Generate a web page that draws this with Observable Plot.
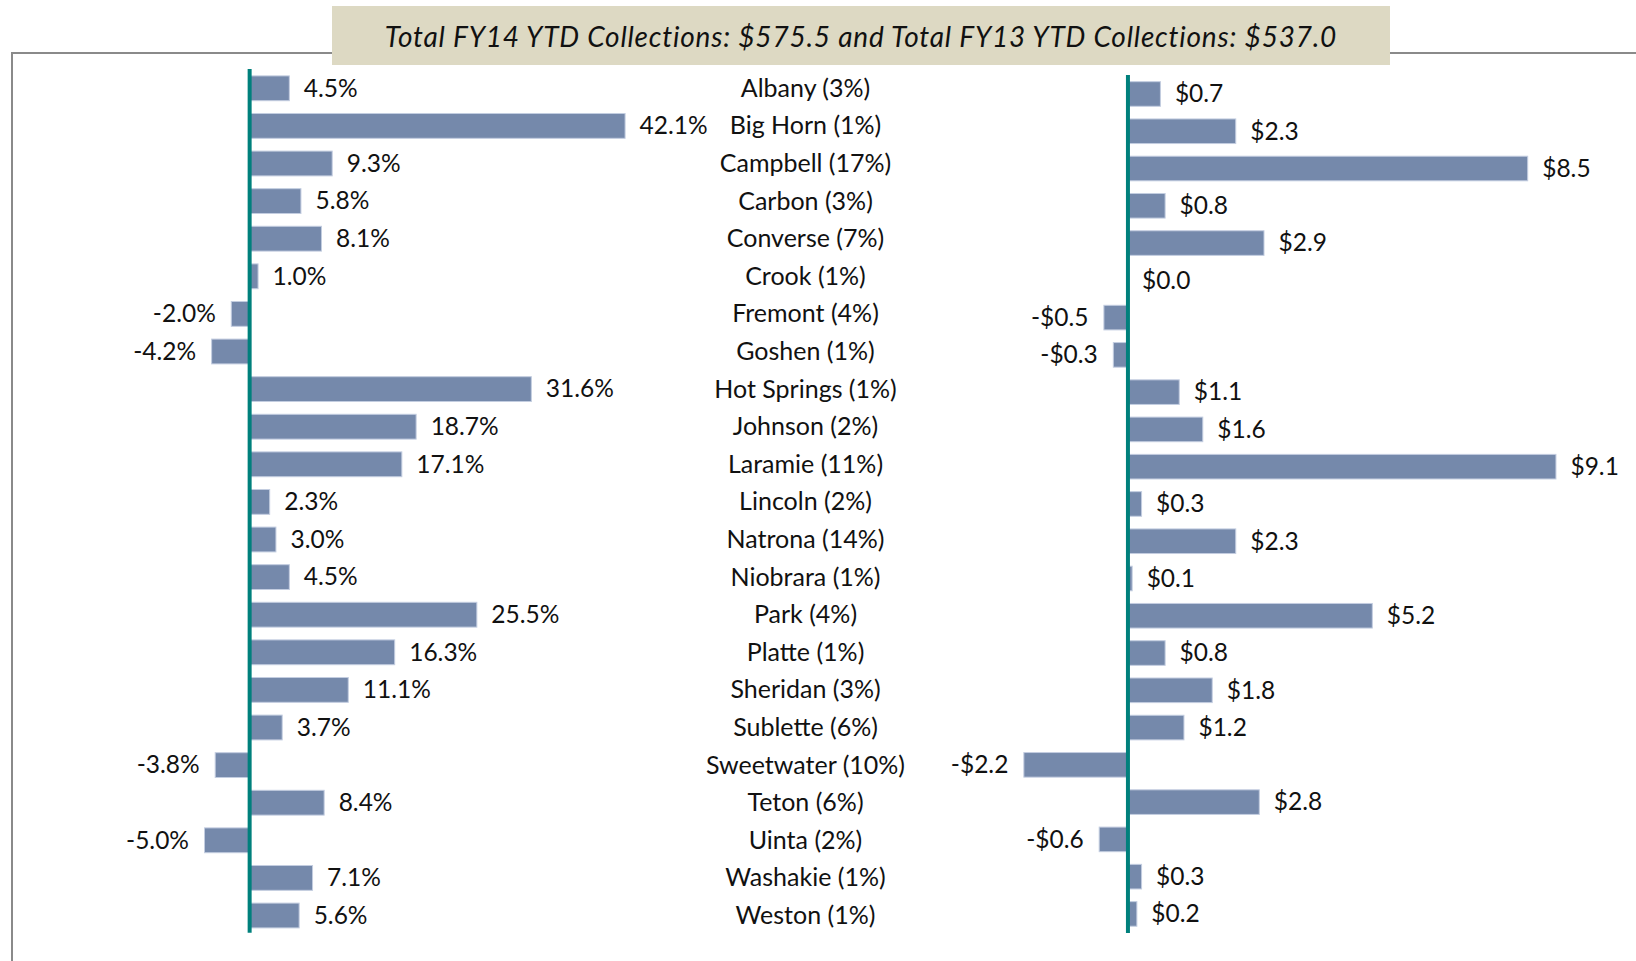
<!DOCTYPE html>
<html>
<head>
<meta charset="utf-8">
<script src="https://cdn.jsdelivr.net/npm/d3@7"></script>
<script src="https://cdn.jsdelivr.net/npm/@observablehq/plot@0.6"></script>
<style>
  body { margin: 0; background: #fff; }
  #root { position: relative; width: 1636px; height: 961px; overflow: hidden; font-family: Lato, sans-serif; }
  #frame { position: absolute; left: 11px; top: 52px; width: 1700px; height: 1000px;
           border-top: 2px solid #8a8a8a; border-left: 2px solid #8a8a8a; }
  #title { position: absolute; left: 332px; top: 6px; width: 1058px; height: 59px; background: #ddd9c3;
           display: flex; align-items: center; justify-content: center;
           font-style: italic; font-size: 28px; letter-spacing: 0.8px; color: #111; white-space: nowrap; }
  .panel { position: absolute; top: 0; }
</style>
</head>
<body>
<div id="root">
  <div id="frame"></div>
  <div id="title">Total FY14 YTD Collections: $575.5 and Total FY13 YTD Collections: $537.0</div>
  <div id="left" class="panel" style="left:0px"></div>
  <div id="mid" class="panel" style="left:655px"></div>
  <div id="right" class="panel" style="left:880px"></div>
</div>
<script>
const counties = ["Albany","Big Horn","Campbell","Carbon","Converse","Crook","Fremont","Goshen","Hot Springs","Johnson","Laramie","Lincoln","Natrona","Niobrara","Park","Platte","Sheridan","Sublette","Sweetwater","Teton","Uinta","Washakie","Weston"];
const shares = [3,1,17,3,7,1,4,1,1,2,11,2,14,1,4,1,3,6,10,6,2,1,1];
const pctChange = [4.5,42.1,9.3,5.8,8.1,1.0,-2.0,-4.2,31.6,18.7,17.1,2.3,3.0,4.5,25.5,16.3,11.1,3.7,-3.8,8.4,-5.0,7.1,5.6];
const dollarChange = [0.7,2.3,8.5,0.8,2.9,0.0,-0.5,-0.3,1.1,1.6,9.1,0.3,2.3,0.1,5.2,0.8,1.8,1.2,-2.2,2.8,-0.6,0.3,0.2];

const rows = counties.map((c, i) => ({
  county: c,
  label: `${c} (${shares[i]}%)`,
  pct: pctChange[i],
  usd: dollarChange[i]
}));

const barFill = "#7589ab";
const barStroke = "#c3cde0";
const axisColor = "#00807c";
const fontSize = 24.5;
const labelSize = 25;
const style = { fontFamily: "Lato, sans-serif", fontSize: fontSize + "px", background: "none", color: "#111", overflow: "visible" };
const yScale = { type: "band", domain: counties, padding: 0.34, round: false, axis: null };

const pctLabel = d => `${d.pct.toFixed(1)}%`;
const usdLabel = d => d.usd < 0 ? `-$${Math.abs(d.usd).toFixed(1)}` : `$${d.usd.toFixed(1)}`;

// Left panel: % change
const left = Plot.plot({
  width: 680, height: 961,
  marginLeft: 0, marginRight: 0, marginTop: 63.1, marginBottom: 20.3,
  style,
  x: { domain: [-27.9, 48.25], axis: null },
  y: yScale,
  marks: [
    Plot.barX(rows, { x: "pct", y: "county", fill: barFill, stroke: barStroke, strokeWidth: 1 }),
    Plot.ruleX([0], { stroke: axisColor, strokeWidth: 4, insetTop: 6, insetBottom: 8 }),
    Plot.text(rows.filter(d => d.pct >= 0), { x: "pct", y: "county", text: pctLabel, textAnchor: "start", dx: 14, fontSize, fill: "#111" }),
    Plot.text(rows.filter(d => d.pct < 0), { x: "pct", y: "county", text: pctLabel, textAnchor: "end", dx: -16, fontSize, fill: "#111" })
  ]
});
document.getElementById("left").appendChild(left);

// Middle: category labels
const mid = Plot.plot({
  width: 300, height: 961,
  marginLeft: 0, marginRight: 0, marginTop: 63.1, marginBottom: 20.3,
  style,
  y: yScale,
  marks: [
    Plot.text(rows, { y: "county", text: "label", frameAnchor: "middle", fontSize: labelSize, fill: "#111" })
  ]
});
document.getElementById("mid").appendChild(mid);

// Right panel: $ change
const right = Plot.plot({
  width: 756, height: 961,
  marginLeft: 0, marginRight: 0, marginTop: 69.0, marginBottom: 22.1,
  style,
  x: { domain: [-5.255, 10.8], axis: null },
  y: yScale,
  marks: [
    Plot.barX(rows, { x: "usd", y: "county", fill: barFill, stroke: barStroke, strokeWidth: 1 }),
    Plot.ruleX([0], { stroke: axisColor, strokeWidth: 4, insetTop: 6, insetBottom: 6 }),
    Plot.text(rows.filter(d => d.usd >= 0), { x: "usd", y: "county", text: usdLabel, textAnchor: "start", dx: 14, fontSize, fill: "#111" }),
    Plot.text(rows.filter(d => d.usd < 0), { x: "usd", y: "county", text: usdLabel, textAnchor: "end", dx: -16, fontSize, fill: "#111" })
  ]
});
document.getElementById("right").appendChild(right);
</script>
</body>
</html>
